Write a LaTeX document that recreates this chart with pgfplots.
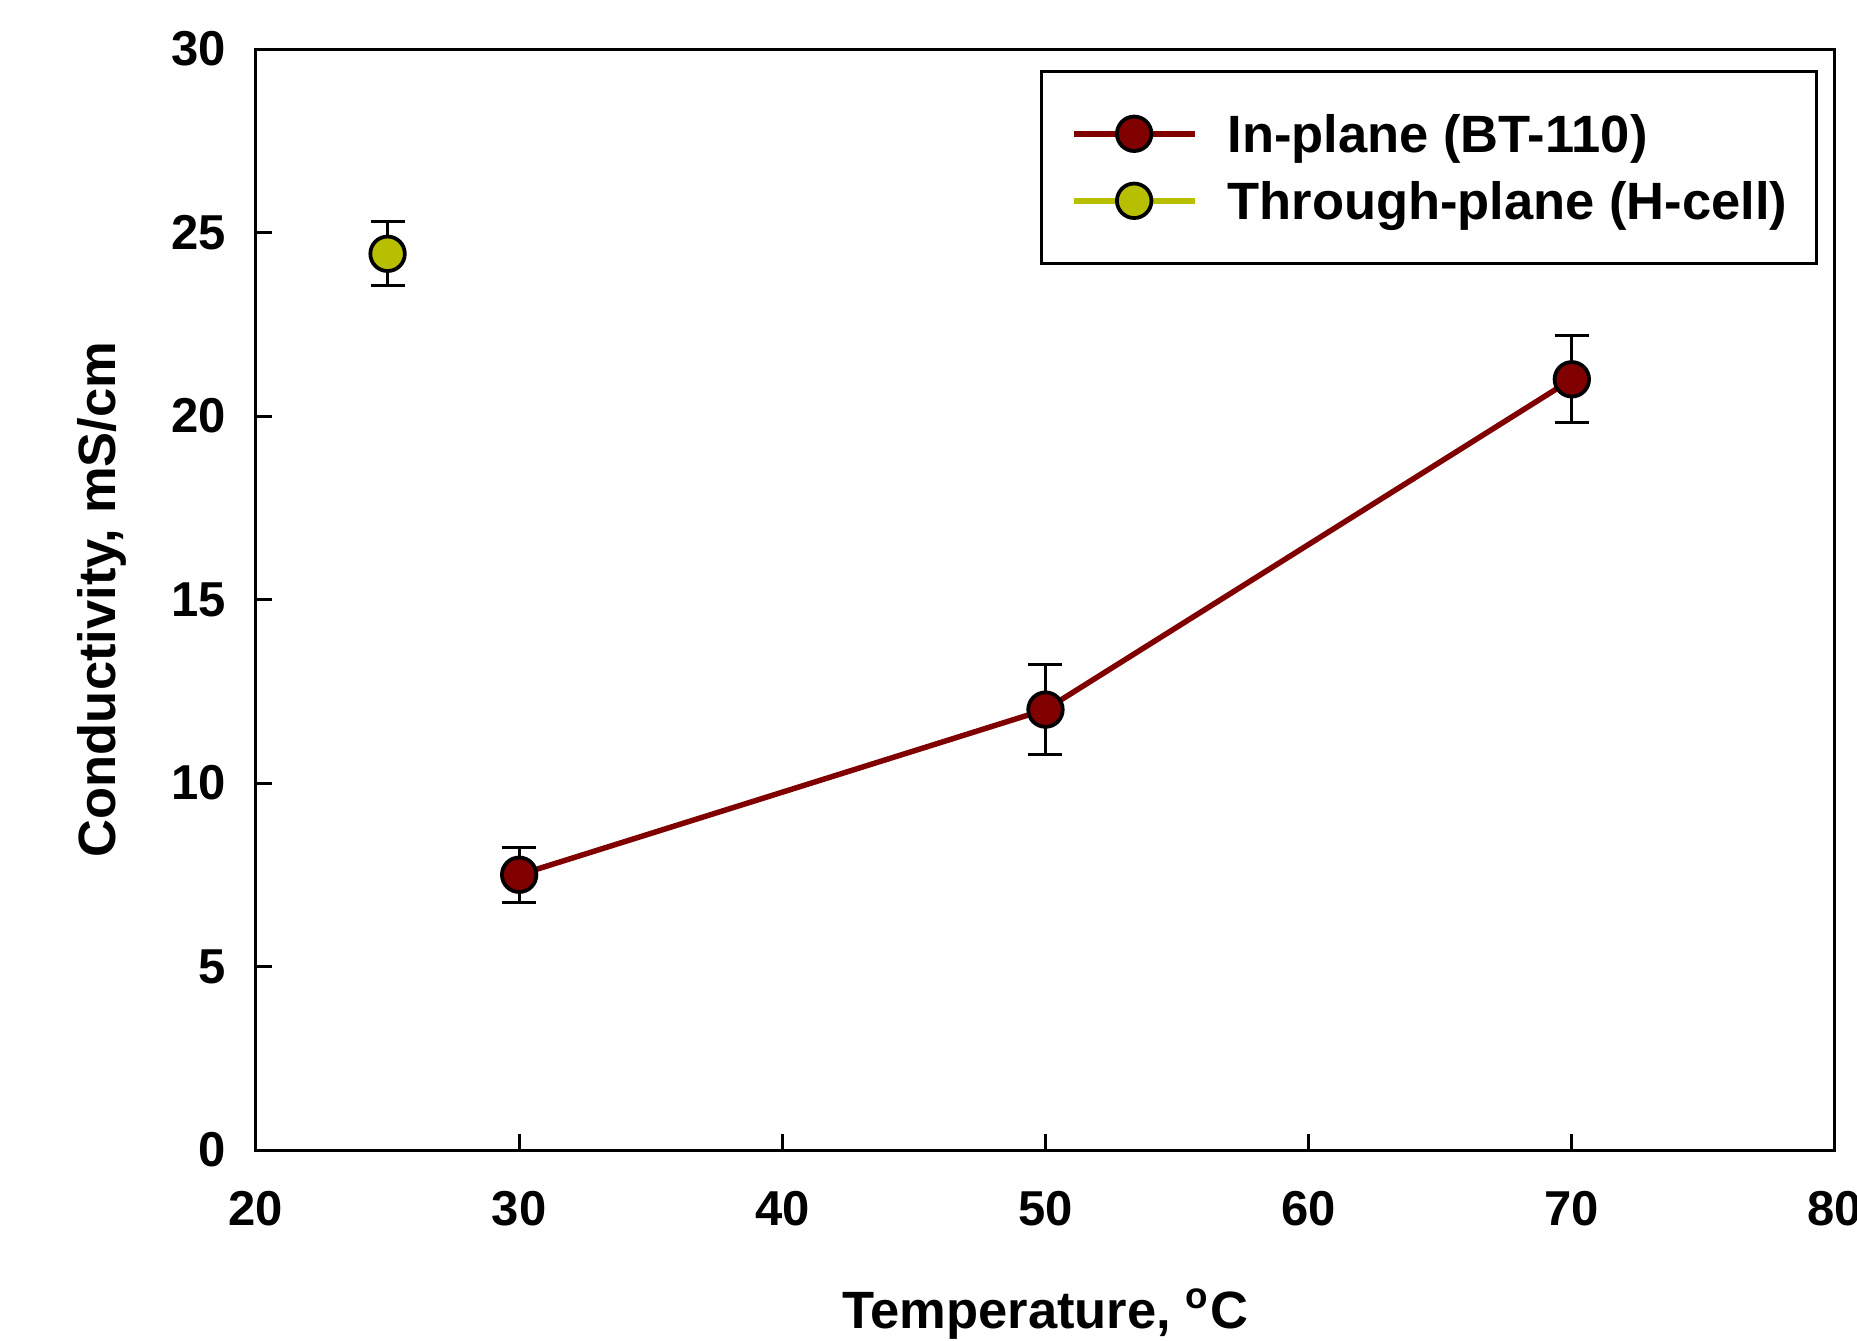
\documentclass[border=0pt]{standalone}
\usepackage{fontspec}
\setmainfont{Liberation Sans}
\usepackage{pgfplots}
\pgfplotsset{compat=1.18}
\definecolor{inred}{RGB}{128,0,0}
\definecolor{thyel}{RGB}{184,190,0}

\begin{document}
\begin{tikzpicture}
  \begin{axis}[
      at={(0pt,0pt)}, anchor=south west,
      scale only axis,
      width=315.8pt, height=220.2pt,
      xmin=20, xmax=80,
      ymin=0, ymax=30,
      xtick={20,30,...,80},
      ytick={0,5,...,30},
      tick pos=left,
      tick align=inside,
      major tick length=3.2pt,
      axis line style={line width=0.6pt},
      every tick/.style={black, line width=0.6pt},
      /pgf/number format/assume math mode=true,
      ticklabel style={font=\fontsize{9.8}{11}\selectfont\bfseries, inner sep=0pt},
      yticklabel style={xshift=-5.8pt},
      xticklabel style={yshift=-8pt},
      xlabel={Temperature, \textsuperscript{o}C},
      ylabel={Conductivity, mS/cm},
      label style={font=\fontsize{10.5}{12}\selectfont\bfseries},
      xlabel style={at={(axis description cs:0.5,-0.1617)}, anchor=base},
      ylabel style={at={(axis description cs:-0.0973,0.5)}, anchor=center},
      legend style={
        at={(axis description cs:0.9892,0.9809)}, anchor=north east,
        draw=black, line width=0.6pt,
        inner xsep=5.8pt, inner ysep=8.7pt,
        row sep=5.9pt, column sep=6pt,
        font=\fontsize{10.5}{12}\selectfont\bfseries,
        nodes={inner sep=0pt, text height=7.5pt, text depth=0pt},
      },
      legend cell align=left,
      legend image code/.code={
        \draw[mark repeat=2, mark phase=2]
          plot coordinates {(0pt,0pt) (12.1pt,0pt) (24.2pt,0pt)};
      },
    ]

    % in-plane, BT-110
    \addplot[
      color=inred, line width=1.1pt,
      mark=*, mark size=3.45pt,
      mark options={fill=inred, draw=black, line width=0.75pt},
      error bars/.cd, y dir=both, y explicit,
      error bar style={black, line width=0.6pt},
      error mark options={rotate=90, black, line width=0.6pt, mark size=3.4pt},
    ]
    coordinates {
      (30, 7.5) +- (0, 0.75)
      (50, 12.0) +- (0, 1.22)
      (70, 21.0) +- (0, 1.18)
    };
    \addlegendentry{In-plane (BT-110)}

    % through-plane, H-cell
    \addplot[
      color=thyel, line width=1.1pt,
      mark=*, mark size=3.45pt,
      mark options={fill=thyel, draw=black, line width=0.75pt},
      error bars/.cd, y dir=both, y explicit,
      error bar style={black, line width=0.6pt},
      error mark options={rotate=90, black, line width=0.6pt, mark size=3.4pt},
    ]
    coordinates {
      (25, 24.42) +- (0, 0.87)
    };
    \addlegendentry{Through-plane (H-cell)}

  \end{axis}
  \pgfresetboundingbox
  \path[use as bounding box] (-51.2pt,-38pt) rectangle (320.2pt,230pt);
\end{tikzpicture}
\end{document}
